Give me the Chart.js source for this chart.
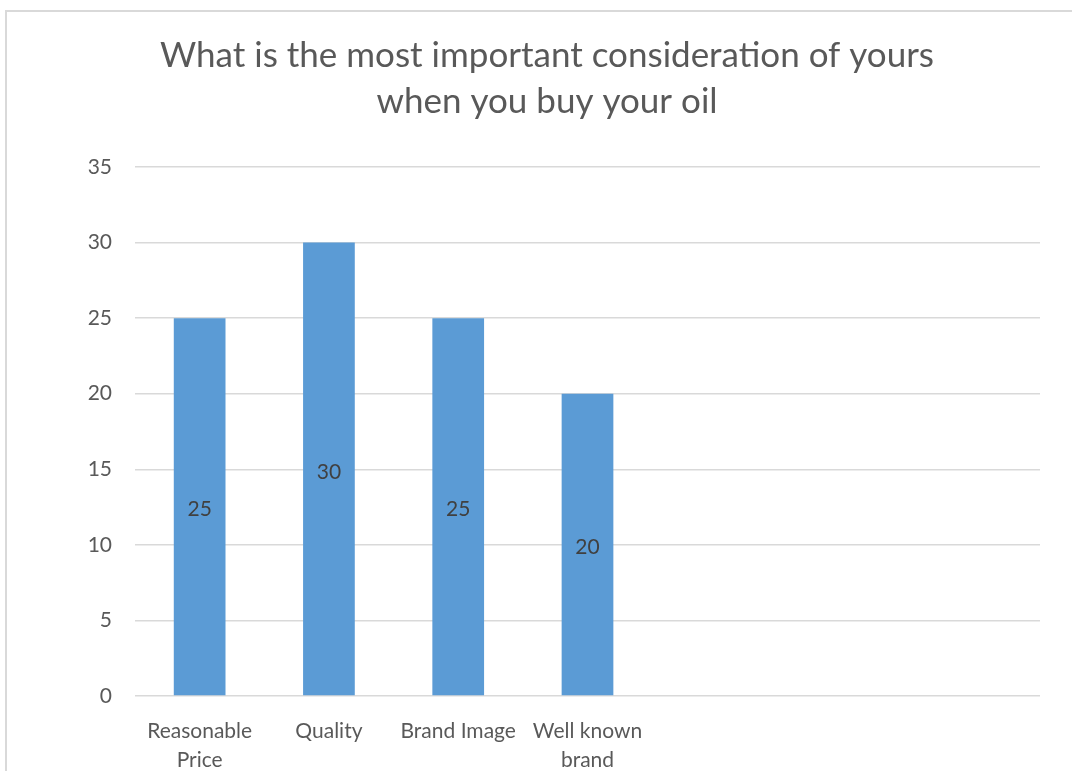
<!DOCTYPE html>
<html>
<head>
<meta charset="utf-8">
<script src="https://cdn.jsdelivr.net/npm/chart.js@4"></script>
<style>
  html, body { margin: 0; padding: 0; background: #fff; overflow: hidden; }
  #wrap { position: relative; width: 1072px; height: 771px; }
  #frame { position: absolute; left: 5px; top: 10px; width: 1100px; height: 800px;
           border: 2px solid #d9d9d9; box-sizing: border-box; pointer-events: none; }
  canvas { position: absolute; left: 0; top: 0; }
</style>
</head>
<body>
<div id="wrap">
  <div id="frame"></div>
  <canvas id="oilChart" width="1072" height="771"></canvas>
</div>
<script>
// survey answers, the last three slots are left empty
const categories = [['Reasonable', 'Price'], 'Quality', 'Brand Image', ['Well known', 'brand'], '', '', ''];
const responses = [25, 30, 25, 20, null, null, null];
const yTicks = [0, 5, 10, 15, 20, 25, 30, 35];

const FONT = 'Lato, "Open Sans", sans-serif';

// writes the value in the middle of each bar
const barValues = {
    id: 'barValues',
    afterDatasetsDraw(chart) {
        const ctx = chart.ctx;
        const meta = chart.getDatasetMeta(0);
        ctx.save();
        ctx.font = '21px ' + FONT;
        ctx.fillStyle = '#404040';
        ctx.textAlign = 'center';
        ctx.textBaseline = 'middle';
        meta.data.forEach((bar, i) => {
            const v = chart.data.datasets[0].data[i];
            if (v == null) return;
            ctx.fillText(String(v), bar.x, (bar.y + bar.base) / 2 + 3);
        });
        ctx.restore();
    }
};

const ctx = document.getElementById('oilChart').getContext('2d');
new Chart(ctx, {
    type: 'bar',
    data: {
        labels: categories,
        datasets: [{
            data: responses,
            backgroundColor: '#5b9bd5',
            borderWidth: 0,
            barPercentage: 0.4,
            categoryPercentage: 1
        }]
    },
    options: {
        responsive: false,
        animation: false,
        devicePixelRatio: 1,
        layout: { padding: { left: 54, right: 32, top: 0, bottom: 0 } },
        scales: {
            y: {
                min: 0,
                max: 35,
                afterBuildTicks: scale => { scale.ticks = yTicks.map(v => ({ value: v })); },
                afterFit: scale => { scale.width = 81; },
                border: { display: false },
                grid: { color: '#d9d9d9', lineWidth: 1.5, drawTicks: false },
                ticks: { padding: 23, color: '#595959', font: { family: FONT, size: 21 } }
            },
            x: {
                afterFit: scale => { scale.height = 75; },
                border: { display: false },
                grid: { display: false, drawTicks: false },
                ticks: { padding: 21, color: '#595959', maxRotation: 0, autoSkip: false,
                         font: { family: FONT, size: 21, lineHeight: 1.38 } }
            }
        },
        plugins: {
            legend: { display: false },
            tooltip: { enabled: false },
            title: {
                display: true,
                text: ['What is the most important consideration of yours', 'when you buy your oil'],
                color: '#595959',
                font: { family: FONT, size: 35, weight: 'normal', lineHeight: 1.3 },
                padding: { top: 33, bottom: 43 }
            }
        }
    },
    plugins: [barValues]
});
</script>
</body>
</html>
